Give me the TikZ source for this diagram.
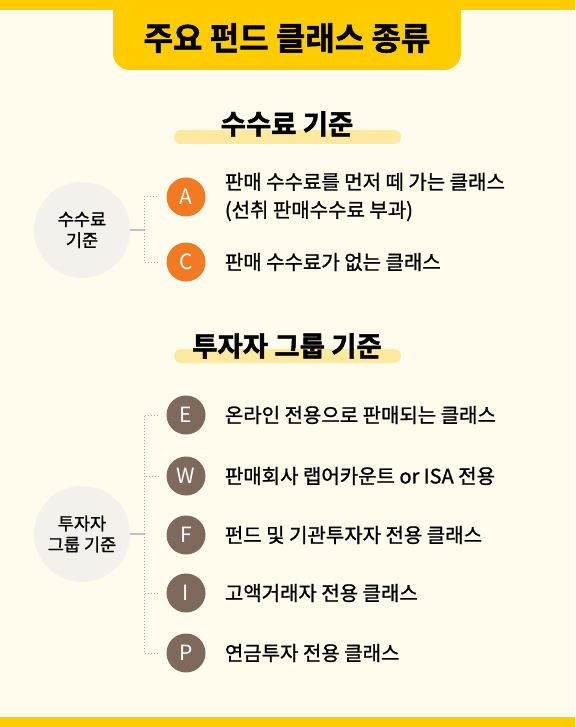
\documentclass[tikz,border=0pt]{standalone}
\usepackage{fontspec}
\setmainfont{Noto Sans CJK KR}
\newfontfamily\heavyfont{Noto Sans CJK KR}[UprightFont={* Bold}, FakeBold=1.6]
\newfontfamily\itemfont{Noto Sans CJK KR}[FakeBold=1.1]
\usetikzlibrary{positioning}

\definecolor{bgcream}{HTML}{FFFCEE}
\definecolor{tabyellow}{HTML}{FFCC00}
\definecolor{baryellow}{HTML}{FFE99E}
\definecolor{feeorange}{HTML}{F17A22}
\definecolor{grpbrown}{HTML}{7D6A5D}
\definecolor{hubgray}{HTML}{F4F0EC}
\definecolor{linkgray}{HTML}{A8A8A8}

\tikzset{
  hub/.style={circle, fill=hubgray, minimum size=96pt, inner sep=0pt, align=center,
    font=\itemfont\fontsize{17.5}{21}\selectfont},
  badge/.style={circle, minimum size=39pt, inner sep=0pt, text=white,
    font=\fontsize{21}{21}\selectfont},
  feebadge/.style={badge, fill=feeorange},
  grpbadge/.style={badge, fill=grpbrown},
  item/.style={right=19pt of #1, inner sep=0pt, align=left,
    font=\itemfont\fontsize{20}{28}\selectfont},
  header/.style={font=\heavyfont\fontsize{27.5}{27.5}\selectfont},
  link/.style={draw=linkgray, line width=1pt, dotted, shorten >=8pt},
  stem/.style={draw=linkgray!70, line width=1.2pt},
}

\begin{document}
\begin{tikzpicture}[x=1pt, y=-1pt]
  \useasboundingbox (0,0) rectangle (575,727);
  \fill[bgcream] (0,0) rectangle (575,727);
  % top and bottom bands
  \fill[tabyellow] (0,0) rectangle (575,10);
  \fill[tabyellow] (0,717) rectangle (575,727);
  \begin{scope}
    \clip (0,0) rectangle (575,727);
    \fill[tabyellow, rounded corners=17pt] (113,-30) rectangle (461,70);
  \end{scope}
  \node[font=\heavyfont\fontsize{32}{32}\selectfont] (title) at (287,38) {주요 펀드 클래스 종류};

  % fee section
  \fill[baryellow, rounded corners=7pt] (174,130) rectangle (401,144);
  \node[header] (hdrFee) at (287,124) {수수료 기준};

  \node[hub] (hubFee) at (82,230) {수수료\\기준};
  \coordinate (splitFee) at (144,230);
  \node[feebadge] (bA) at (186,197) {A};
  \node[feebadge] (bC) at (186,262) {C};
  \node[item=bA] (tA) {판매 수수료를 먼저 떼 가는 클래스\\(선취 판매수수료 부과)};
  \node[item=bC] (tC) {판매 수수료가 없는 클래스};
  \draw[stem] (hubFee) -- (splitFee);
  \draw[link] (splitFee) |- (bA);
  \draw[link] (splitFee) |- (bC);

  % investor group section
  \fill[baryellow, rounded corners=7pt] (174,349) rectangle (401,363);
  \node[header] (hdrGrp) at (287,346) {투자자 그룹 기준};

  \node[hub] (hubGrp) at (82,534) {투자자\\그룹 기준};
  \coordinate (splitGrp) at (144,534);
  \node[grpbadge] (bE) at (186,415) {E};
  \node[grpbadge] (bW) at (186,476) {W};
  \node[grpbadge] (bF) at (186,535) {F};
  \node[grpbadge] (bI) at (186,593) {I};
  \node[grpbadge] (bP) at (186,653) {P};
  \node[item=bE] (tE) {온라인 전용으로 판매되는 클래스};
  \node[item=bW] (tW) {판매회사 랩어카운트 or ISA 전용};
  \node[item=bF] (tF) {펀드 및 기관투자자 전용 클래스};
  \node[item=bI] (tI) {고액거래자 전용 클래스};
  \node[item=bP] (tP) {연금투자 전용 클래스};
  \draw[stem] (hubGrp) -- (splitGrp);
  \draw[link] (splitGrp) |- (bE);
  \draw[link] (splitGrp) |- (bW);
  \draw[link] (splitGrp) -- (splitGrp |- bF.west);
  \draw[link] (splitGrp) |- (bI);
  \draw[link] (splitGrp) |- (bP);
\end{tikzpicture}
\end{document}
